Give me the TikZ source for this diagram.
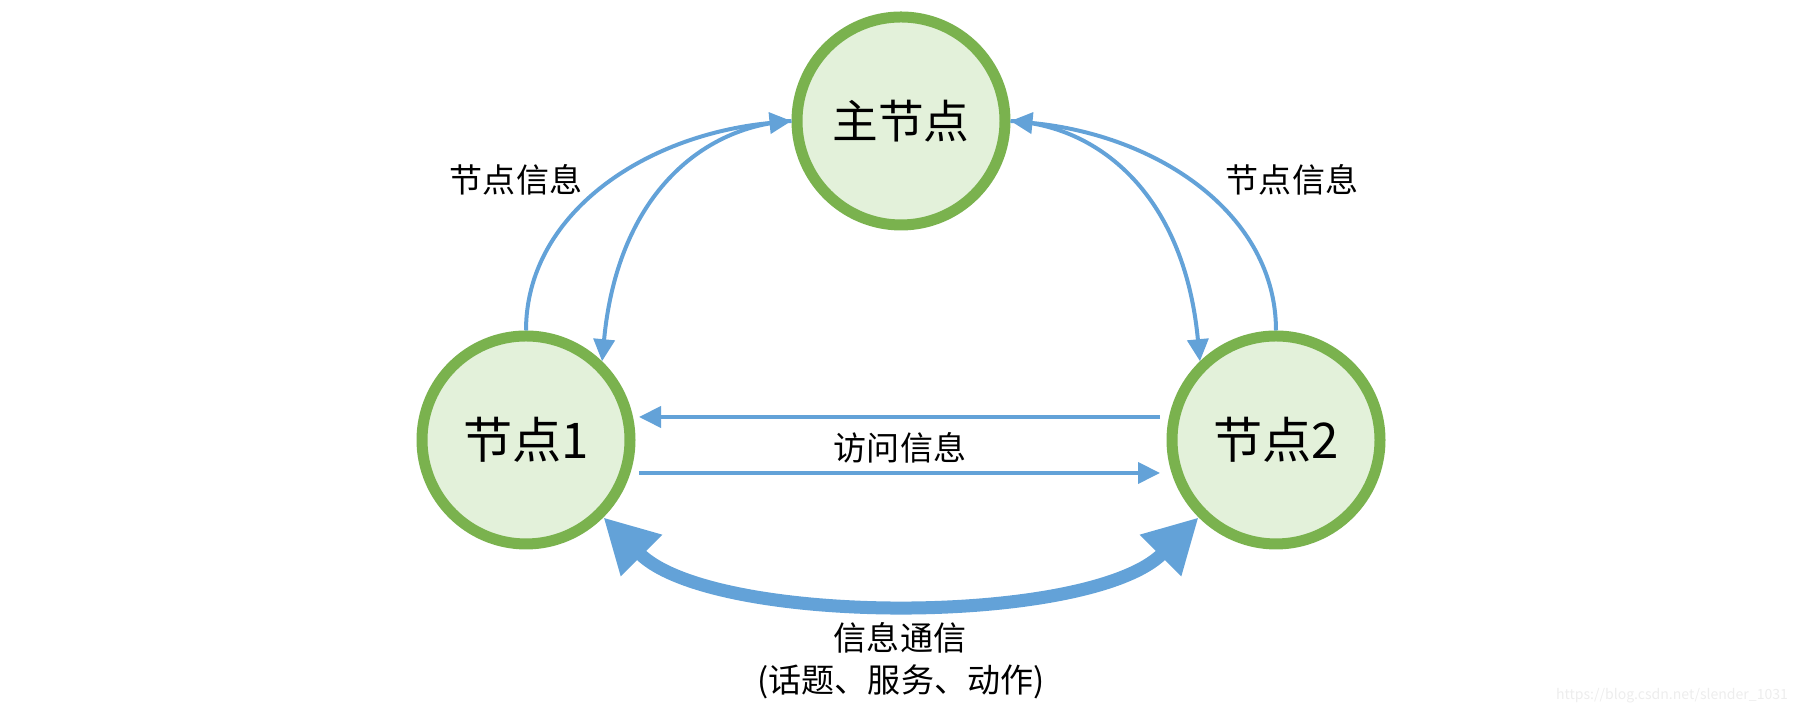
\documentclass[tikz,border=0pt]{standalone}
\usepackage{fontspec}
\setmainfont{Noto Sans CJK SC}
\usepackage{tikz}
\usetikzlibrary{arrows.meta}
\definecolor{ringgreen}{HTML}{7AB24E}
\definecolor{fillgreen}{HTML}{E3F1DA}
\definecolor{linkblue}{HTML}{63A2D8}

\begin{document}
\begin{tikzpicture}[nd/.style={circle, draw=ringgreen, fill=fillgreen, line width=0.11cm, minimum size=2.08cm, inner sep=0pt},
	msg/.style={draw=linkblue, line width=0.04cm, -{Triangle[length=0.22cm, width=0.21cm]}},
	comm/.style={draw=linkblue, line width=0.13cm, {Triangle[length=0.54cm, width=0.55cm]}-{Triangle[length=0.54cm, width=0.55cm]}},
	lbl/.style={font=\fontsize{9.4}{11}\selectfont}]
\useasboundingbox (0,0) rectangle (18.01,7.14);
% nodes
\node [nd, font=\fontsize{13}{15}\selectfont] (m) at (9.01,5.93) {主节点};
\node [nd, font=\fontsize{14}{16}\selectfont] (n1) at (5.26,2.74) {节点1};
\node [nd, font=\fontsize{14}{16}\selectfont] (n2) at (12.76,2.74) {节点2};
% node info
\draw [msg] (n1.north) .. controls +(0,1.16) and +(-1.48,-0.14) .. (m.west);
\draw [msg] (m.west) .. controls +(-0.85,-0.04) and +(0.16,1.7) .. (n1.46);
\draw [msg] (n2.north) .. controls +(0,1.16) and +(1.48,-0.14) .. (m.east);
\draw [msg] (m.east) .. controls +(0.85,-0.04) and +(-0.16,1.7) .. (n2.134);
\node [lbl] (i1) at (5.16,5.34) {节点信息};
\node [lbl] (i2) at (12.92,5.34) {节点信息};
% access info
\draw [msg] ([xshift=-0.065cm,yshift=0.23cm]n2.west) -- ([xshift=0.035cm,yshift=0.23cm]n1.east);
\draw [msg] ([xshift=0.035cm,yshift=-0.33cm]n1.east) -- ([xshift=-0.065cm,yshift=-0.33cm]n2.west);
\node [lbl] (acc) at (9.00,2.66) {访问信息};
% communication
\draw [comm] (n1.-45) .. controls +(-45:1.54) and +(-135:1.54) .. (n2.-135);
\node [lbl] (c1) at (9.00,0.76) {信息通信};
\node [lbl] (c2) at (9.01,0.32) {(话题、服务、动作)};
\node [font=\fontsize{4}{5}\selectfont, text=black!7] (wm) at (16.72,0.18) {https://blog.csdn.net/slender\_1031};
\end{tikzpicture}
\end{document}
